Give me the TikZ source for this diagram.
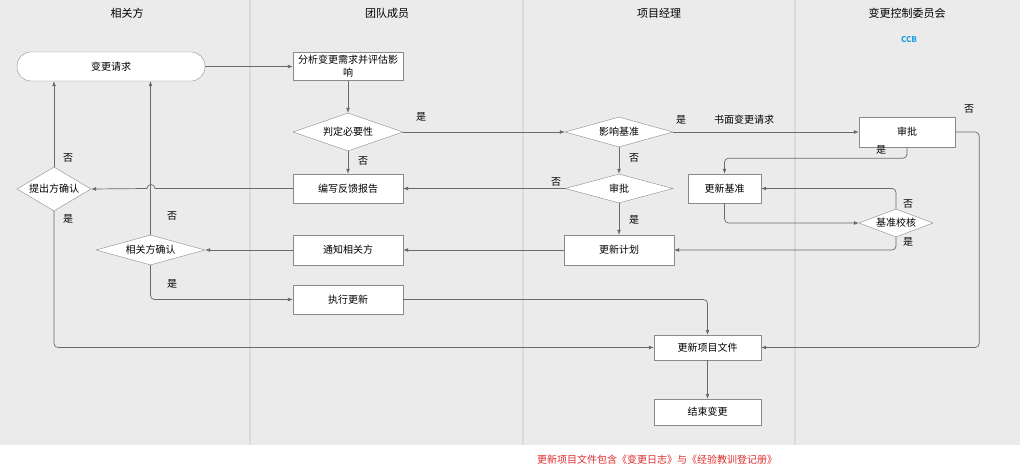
\documentclass[tikz,border=0pt]{standalone}
\usepackage{fontspec}
\setmainfont{Noto Sans CJK SC}
\usepackage{tikz}
\usetikzlibrary{shapes.geometric,arrows.meta}
\definecolor{lanegray}{HTML}{EBEBEB}
\definecolor{lanerule}{HTML}{DADADA}
\definecolor{boxgray}{HTML}{8A8A8A}
\definecolor{linegray}{HTML}{6A6A6A}
\definecolor{ccbblue}{HTML}{1EA0DC}
\definecolor{notered}{HTML}{DD2A2A}

\begin{document}
\begin{tikzpicture}[x=1pt,y=-1pt,
    lane/.style={draw=lanerule,line width=1.5pt},
    head/.style={font=\fontsize{11}{13}\selectfont},
    proc/.style={draw=boxgray,fill=white,inner sep=1pt,align=center,font=\fontsize{10}{13}\selectfont},
    choice/.style={diamond,draw=boxgray,fill=white,inner sep=0pt,aspect=3,font=\fontsize{10}{12}\selectfont},
    flow/.style={draw=linegray,line width=0.7pt,rounded corners=4pt,-{Latex[length=5pt,width=4pt]}},
    lbl/.style={font=\fontsize{10}{12}\selectfont}]
    \useasboundingbox (0,0) rectangle (1024,470);
    \fill[lanegray] (0,0) rectangle (1020,445);
    \foreach \lx in {250,523,795}
        \draw[lane] (\lx,0) -- (\lx,445);
    \node[head] (hsta) at (127,13) {相关方};
    \node[head] (hteam) at (387,13) {团队成员};
    \node[head] (hpm) at (659,13) {项目经理};
    \node[head] (hccb) at (907,13) {变更控制委员会};
    \node[font=\fontsize{8}{10}\selectfont\bfseries,text=ccbblue] (ccb) at (909,40) {CCB};

    \node[proc,rounded corners=14pt,minimum width=188pt,minimum height=29pt] (req) at (111,66.5) {变更请求};
    \node[proc,minimum width=110pt,minimum height=28pt] (ana) at (348,66.5) {分析变更需求并评估影\\响};
    \node[choice,minimum width=110pt,minimum height=38pt] (nec) at (348,132) {判定必要性};
    \node[proc,minimum width=110pt,minimum height=29pt] (fb) at (348,188.5) {编写反馈报告};
    \node[choice,minimum width=74pt,minimum height=44pt,aspect=1.7] (prop) at (54,189) {提出方确认};
    \node[choice,minimum width=108pt,minimum height=30pt] (base) at (619,132) {影响基准};
    \node[choice,minimum width=108pt,minimum height=29pt] (pmapp) at (619,188.5) {审批};
    \node[proc,minimum width=96pt,minimum height=30pt] (ccbapp) at (907,132) {审批};
    \node[proc,minimum width=73pt,minimum height=29pt] (upbase) at (724.5,188.5) {更新基准};
    \node[choice,minimum width=74pt,minimum height=28pt,aspect=2.6] (chk) at (896,223) {基准校核};
    \node[proc,minimum width=110pt,minimum height=30pt] (plan) at (619,250) {更新计划};
    \node[proc,minimum width=110pt,minimum height=30pt] (notify) at (348,250) {通知相关方};
    \node[choice,minimum width=109pt,minimum height=30pt] (stake) at (150.5,250) {相关方确认};
    \node[proc,minimum width=110pt,minimum height=29pt] (exec) at (348,299.5) {执行更新};
    \node[proc,minimum width=107pt,minimum height=25pt] (docs) at (707.5,347.5) {更新项目文件};
    \node[proc,minimum width=107pt,minimum height=26pt] (endc) at (707.5,412) {结束变更};

    \draw[flow] (req) -- (ana);
    \draw[flow] (ana) -- (nec);
    \draw[flow] (nec) -- (base);
    \draw[flow] (nec) -- (fb);
    \draw[flow] (base) -- (ccbapp);
    \draw[flow] (base) -- (pmapp);
    \draw[flow] (pmapp) -- (fb);
    \draw[flow,sharp corners] (fb.west) -- (155,188.5) arc[start angle=0,end angle=180,radius=4pt] -- (prop.east);
    \draw[flow] (prop.north) -- (prop.north |- req.south);
    \draw[flow] (prop.south) |- (docs.west);
    \draw[flow] (stake.north) -- (stake.north |- req.south);
    \draw[flow] (stake.south) |- (exec.west);
    \draw[flow] (notify) -- (stake);
    \draw[flow] (plan) -- (notify);
    \draw[flow] (pmapp) -- (plan);
    \draw[flow] (ccbapp.south) -- ++(0,11) -| (upbase.north);
    \draw[flow] (upbase.south) |- (chk.west);
    \draw[flow] (chk.north) |- (upbase.east);
    \draw[flow] (chk.south) |- (plan.east);
    \draw[flow] (ccbapp.east) -- ++(24,0) |- (docs.east);
    \draw[flow] (exec.east) -| (docs.north);
    \draw[flow] (docs) -- (endc);

    \node[lbl] (ynec) at (421,117) {是};
    \node[lbl] (nnec) at (363,161) {否};
    \node[lbl] (ybase) at (681,120) {是};
    \node[lbl] (wreq) at (744,120) {书面变更请求};
    \node[lbl] (nbase) at (634,158) {否};
    \node[lbl] (npm) at (556,182) {否};
    \node[lbl] (ypm) at (634,220) {是};
    \node[lbl] (nprop) at (68,158) {否};
    \node[lbl] (yprop) at (68,219) {是};
    \node[lbl] (nsta) at (172,216) {否};
    \node[lbl] (ysta) at (172,284) {是};
    \node[lbl] (yccb) at (881,150) {是};
    \node[lbl] (nccb) at (969,109) {否};
    \node[lbl] (nchk) at (908,204) {否};
    \node[lbl] (ychk) at (908,242) {是};
    \node[lbl,text=notered] (note) at (657,460) {更新项目文件包含《变更日志》与《经验教训登记册》};
\end{tikzpicture}
\end{document}
